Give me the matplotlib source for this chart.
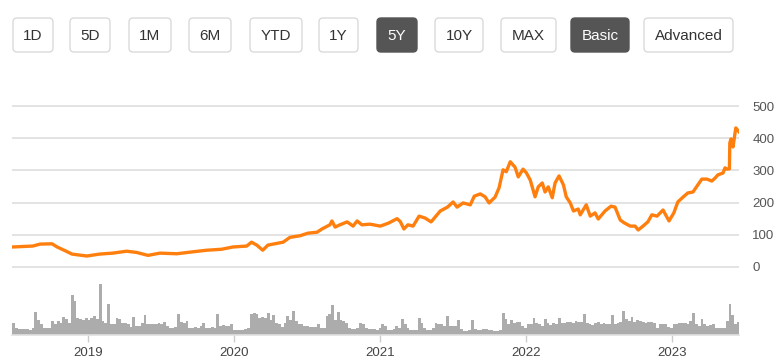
import matplotlib.pyplot as plt
import matplotlib.dates as mdates
from matplotlib.patches import FancyBboxPatch
import pandas as pd

plt.rcParams['font.family'] = ['Liberation Sans', 'DejaVu Sans']

# range / mode buttons above the chart
buttons = ['1D', '5D', '1M', '6M', 'YTD', '1Y', '5Y', '10Y', 'MAX', 'Basic', 'Advanced']
active_buttons = ['5Y', 'Basic']

# closing price
price_dates = [
    '2018-06-25', '2018-08-16', '2018-09-03', '2018-10-03', '2018-10-16', '2018-11-04',
    '2018-11-22', '2018-12-29', '2019-01-30', '2019-03-04', '2019-04-08', '2019-05-03',
    '2019-05-31', '2019-06-30', '2019-08-11', '2019-09-13', '2019-10-25', '2019-12-01',
    '2019-12-29', '2020-02-02', '2020-02-14', '2020-02-27', '2020-03-13', '2020-03-26',
    '2020-05-03', '2020-05-20', '2020-06-14', '2020-07-04', '2020-07-27', '2020-08-08',
    '2020-08-28', '2020-09-02', '2020-09-10', '2020-09-22', '2020-10-10', '2020-10-25',
    '2020-11-04', '2020-11-16', '2020-12-06', '2021-01-01', '2021-01-21', '2021-02-12',
    '2021-02-20', '2021-03-01', '2021-03-11', '2021-03-24', '2021-04-08', '2021-04-23',
    '2021-05-08', '2021-05-31', '2021-06-18', '2021-07-02', '2021-07-12', '2021-07-27',
    '2021-08-14', '2021-08-24', '2021-09-08', '2021-09-20', '2021-09-30', '2021-10-15',
    '2021-10-25', '2021-11-04', '2021-11-12', '2021-11-22', '2021-11-29', '2021-12-04',
    '2021-12-12', '2021-12-24', '2022-01-01', '2022-01-11', '2022-01-23', '2022-01-31',
    '2022-02-10', '2022-02-17', '2022-02-25', '2022-03-07', '2022-03-14', '2022-03-24',
    '2022-04-04', '2022-04-11', '2022-04-21', '2022-04-29', '2022-05-11', '2022-05-16',
    '2022-05-31', '2022-06-10', '2022-06-22', '2022-06-30', '2022-07-17', '2022-08-01',
    '2022-08-11', '2022-08-24', '2022-09-03', '2022-09-18', '2022-09-30', '2022-10-08',
    '2022-10-20', '2022-11-01', '2022-11-11', '2022-11-24', '2022-12-09', '2022-12-24',
    '2023-01-05', '2023-01-15', '2023-01-28', '2023-02-09', '2023-02-22', '2023-03-06',
    '2023-03-16', '2023-03-29', '2023-04-10', '2023-04-18', '2023-04-25', '2023-05-08',
    '2023-05-13', '2023-05-18', '2023-05-24', '2023-05-25', '2023-05-28', '2023-06-02',
    '2023-06-09', '2023-06-17',
]
price_values = [
    62, 65, 71, 72, 62, 51,
    40, 34, 40, 43, 49, 45,
    36, 43, 41, 46, 52, 55,
    62, 65, 77, 68, 52, 68,
    77, 92, 97, 105, 108, 118,
    131, 143, 124, 131, 140, 127,
    143, 131, 133, 127, 136, 150,
    141, 118, 131, 127, 158, 152,
    140, 174, 186, 202, 186, 199,
    193, 220, 227, 218, 199, 217,
    246, 302, 296, 327, 317, 310,
    280, 304, 293, 270, 218, 249,
    261, 233, 249, 215, 261, 283,
    255, 218, 199, 174, 180, 162,
    193, 158, 168, 149, 174, 189,
    186, 146, 137, 127, 127, 115,
    127, 140, 162, 158, 177, 143,
    168, 202, 217, 230, 233, 255,
    273, 273, 267, 276, 286, 292,
    308, 304, 305, 385, 398, 373,
    432, 420,
]

# weekly volume (same arbitrary units as the bar heights)
volume_start = '2018-06-25'
volume = [
    12, 7, 6, 6, 6, 6, 5, 7, 23, 15, 11, 7, 7, 7, 14, 11, 14, 12, 18, 16,
    12, 40, 34, 17, 16, 15, 17, 15, 17, 19, 16, 51, 14, 12, 31, 11, 11, 17, 16, 12,
    12, 11, 8, 18, 9, 9, 12, 20, 11, 11, 11, 11, 12, 11, 13, 9, 7, 7, 8, 21,
    13, 12, 14, 7, 7, 8, 7, 9, 12, 7, 7, 8, 7, 21, 9, 10, 9, 9, 11, 5,
    5, 5, 5, 6, 7, 21, 22, 21, 17, 18, 17, 22, 15, 20, 12, 11, 8, 12, 19, 15,
    24, 14, 11, 11, 9, 9, 8, 8, 8, 11, 7, 7, 19, 21, 30, 15, 23, 15, 14, 12,
    7, 6, 6, 7, 12, 11, 7, 6, 6, 6, 5, 7, 11, 9, 5, 5, 6, 9, 7, 16,
    11, 7, 5, 5, 5, 17, 12, 7, 5, 5, 7, 12, 11, 11, 9, 19, 9, 9, 9, 15,
    6, 4, 4, 5, 15, 6, 5, 5, 6, 6, 5, 5, 4, 4, 5, 22, 16, 11, 15, 12,
    13, 13, 9, 7, 11, 11, 17, 12, 11, 9, 16, 12, 10, 12, 11, 17, 12, 12, 13, 13,
    12, 14, 13, 13, 21, 12, 11, 10, 12, 13, 11, 12, 11, 11, 20, 11, 12, 13, 24, 16,
    14, 18, 13, 15, 14, 13, 12, 13, 13, 12, 7, 11, 11, 11, 8, 7, 11, 11, 12, 12,
    12, 11, 14, 22, 11, 9, 16, 11, 9, 10, 11, 7, 7, 7, 7, 14, 31, 20, 11, 13,
]

year_labels = ['2019', '2020', '2021', '2022', '2023']
price_ticks = [0, 100, 200, 300, 400, 500]

# pixel layout of the button row (left, right)
button_x = [(13, 53), (70, 110), (129, 171), (189, 231), (250, 302), (319, 358),
            (377, 417), (435, 483), (501, 556), (571, 629), (644, 733)]

W, H = 783, 360
fig = plt.figure(figsize=(W / 100, H / 100), dpi=100)

x0 = pd.Timestamp('2018-06-25')
x1 = pd.Timestamp('2023-06-17')

# price panel
ax = fig.add_axes([12 / W, 1 - 275 / H, 727 / W, 185 / H])
ax.plot(pd.to_datetime(price_dates), price_values, color='#ff7f0e', lw=2.4,
        solid_joinstyle='round', zorder=3)
ax.set_xlim(x0, x1)
ax.set_ylim(-25, 550)
ax.set_yticks(price_ticks)
ax.yaxis.tick_right()
ax.tick_params(axis='y', length=0, pad=9.5, labelsize=9.5, labelcolor='#555555')
ax.set_xticks([])
ax.grid(axis='y', color='#dedede', lw=1.2)
for s in ax.spines.values():
    s.set_visible(False)

# volume panel
vax = fig.add_axes([12 / W, 25 / H, 727 / W, 55 / H])
vdates = pd.date_range(volume_start, periods=len(volume), freq='7D')
vax.bar(vdates, volume, width=7, color='#acacac', linewidth=0, align='edge')
vax.set_xlim(x0, x1)
vax.set_ylim(0, 55)
vax.set_yticks([])
vax.set_xticks(pd.to_datetime([y + '-01-01' for y in year_labels]))
vax.set_xticklabels(year_labels)
vax.tick_params(axis='x', length=5, width=1, color='#cccccc', pad=4,
                labelsize=9.5, labelcolor='#444444')
for k in ['top', 'left', 'right']:
    vax.spines[k].set_visible(False)
vax.spines['bottom'].set_color('#e0e0e0')
vax.spines['bottom'].set_linewidth(1.2)

# button row
bax = fig.add_axes([0, 0, 1, 1])
bax.set_xlim(0, W)
bax.set_ylim(H, 0)
bax.axis('off')
for name, (l, r) in zip(buttons, button_x):
    on = name in active_buttons
    box = FancyBboxPatch((l, 18), r - l, 34,
                         boxstyle='round,pad=0,rounding_size=4',
                         facecolor='#555555' if on else 'white',
                         edgecolor='#555555' if on else '#dadada', lw=1)
    bax.add_patch(box)
    bax.text((l + r) / 2, 35.5, name, ha='center', va='center', fontsize=11,
             color='white' if on else '#333333')

fig.savefig('out.png', dpi=100)
